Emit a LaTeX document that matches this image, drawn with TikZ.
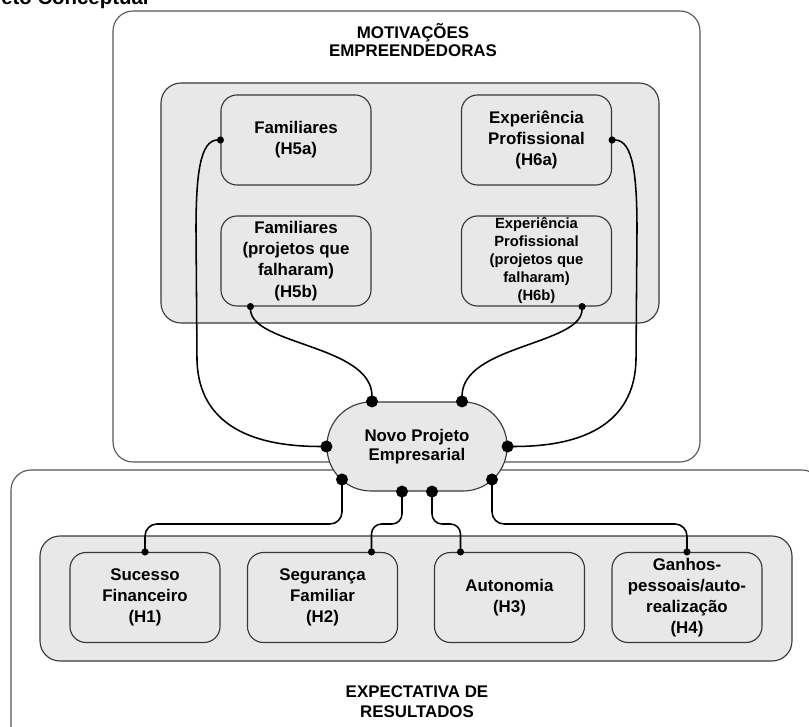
\documentclass[tikz,border=0pt]{standalone}
\usepackage{fontspec}
\setmainfont{Liberation Sans}
\usetikzlibrary{arrows.meta,calc}

\definecolor{cinza}{HTML}{E8E8E8}
\definecolor{borda}{HTML}{383838}

\begin{document}
\begin{tikzpicture}[x=0.025cm, y=-0.025cm,
    grupo/.style={draw=borda!85, line width=0.8pt, rounded corners=0.5cm},
    hipotese/.style={draw=borda, fill=cinza, line width=0.8pt, rounded corners=0.4cm,
        align=center, minimum width=3.75cm, minimum height=2.25cm, inner sep=0pt,
        font=\fontsize{12}{15}\selectfont\bfseries},
    ligacao/.style={line width=1.1pt, {Circle[length=5pt]}-{Circle[length=8.5pt]},
        shorten <=-2.5pt, shorten >=-4.25pt},
    titulo/.style={align=center, font=\fontsize{12}{13}\selectfont\bfseries}]
    \useasboundingbox (0,0) rectangle (809,727);

    % Título cortado
    \node[anchor=base west, inner sep=0pt, font=\fontsize{14.5}{16}\selectfont\bfseries] (canto) at (1,5) {eto Conceptual};

    % Grupos exteriores
    \draw[grupo, fill=white] (11,470) rectangle (822,760);
    \draw[grupo, fill=white] (113,11) rectangle (700,462);

    % Grupos interiores
    \draw[grupo, fill=cinza, draw=borda] (161,83) rectangle (659,323);
    \draw[grupo, fill=cinza, draw=borda] (40,536) rectangle (792,661);

    % Títulos dos grupos
    \node[titulo] (motiv) at (413,40) {MOTIVAÇÕES\\EMPREENDEDORAS};
    \node[titulo, font=\fontsize{12}{14.2}\selectfont\bfseries] (expect) at (417,702) {EXPECTATIVA DE\\RESULTADOS};

    % Motivações
    \node[hipotese] (h5a) at (296,140) {Familiares\\(H5a)};
    \node[hipotese] (h6a) at (536.5,140) {Experiência\\Profissional\\(H6a)};
    \node[hipotese] (h5b) at (296,261) {Familiares\\(projetos que\\falharam)\\(H5b)};
    \node[hipotese, font=\fontsize{10.5}{12.8}\selectfont\bfseries] (h6b) at (536.5,261) {Experiência\\Profissional\\(projetos que\\falharam)\\(H6b)};

    % Expectativas
    \node[hipotese] (h1) at (145,597.5) {Sucesso\\Financeiro\\(H1)};
    \node[hipotese] (h2) at (322.5,597.5) {Segurança\\Familiar\\(H2)};
    \node[hipotese] (h3) at (509.5,597.5) {Autonomia\\(H3)};
    \node[hipotese] (h4) at (687,597.5) {Ganhos-\\pessoais/auto-\\realização\\(H4)};

    % Novo projeto
    \node[draw=borda, fill=cinza, line width=0.8pt, rounded corners=1.1cm,
        minimum width=4.5cm, minimum height=2.225cm, align=center,
        font=\fontsize{12}{14}\selectfont\bfseries] (novo) at (417,446.5) {Novo Projeto\\Empresarial};
    \coordinate (n-nw) at ($(novo.north)+(-45,0)$);
    \coordinate (n-ne) at ($(novo.north)+(45,0)$);
    \coordinate (n-sw) at ($(novo.center)+(-75,33)$);
    \coordinate (n-se) at ($(novo.center)+(75,33)$);
    \coordinate (n-s1) at ($(novo.south)+(-15,0)$);
    \coordinate (n-s2) at ($(novo.south)+(15,0)$);

    % Ligações de cima
    \draw[ligacao] (h5a.west) .. controls (200,140) and (196,175) .. (196,230) -- (197,360)
        .. controls (199,440) and (280,446.5) .. (novo.west);
    \draw[ligacao] (h6a.east) .. controls (633,140) and (637,175) .. (637,230) -- (636,360)
        .. controls (634,440) and (554,446.5) .. (novo.east);
    \draw[ligacao] ($(h5b.south west)+(30,0)$) .. controls (251,345) and (372,345) .. (n-nw);
    \draw[ligacao] ($(h6b.south east)+(-30,0)$) .. controls (582,345) and (462,345) .. (n-ne);

    % Ligações de baixo
    \draw[ligacao, rounded corners=0.3cm] (h1.north) -- (145,524) -- (342,524) -- (n-sw);
    \draw[ligacao, rounded corners=0.25cm] ($(h2.north)+(49,0)$) -- (371.5,524) -- (402,524) -- (n-s1);
    \draw[ligacao, rounded corners=0.25cm] ($(h3.north)+(-49,0)$) -- (460.5,524) -- (432,524) -- (n-s2);
    \draw[ligacao, rounded corners=0.3cm] (h4.north) -- (687,524) -- (492,524) -- (n-se);

\end{tikzpicture}
\end{document}
